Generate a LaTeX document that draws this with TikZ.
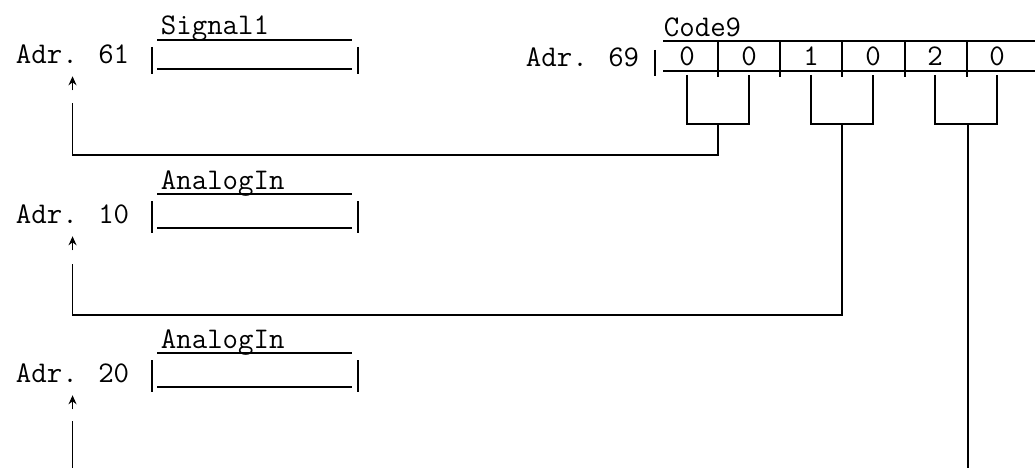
\documentclass[tikz,border=0pt]{standalone}
\usepackage{fontspec}
\usetikzlibrary{arrows.meta}

\begin{document}
\begin{tikzpicture}[x=1pt,y=-1pt,>={Stealth[length=9pt,width=8pt]},line width=1.8pt,
  every node/.style={font=\ttfamily\fontsize{30}{32}\selectfont,inner sep=0pt},
  lbl/.style={anchor=base west},
  digit/.style={anchor=base}]
  \useasboundingbox (0,0) rectangle (1035,468);
  % the three variables on the left
  \foreach \t/\b/\adr/\name in {40/69/61/Signal1,194/228/10/AnalogIn,353/387/20/AnalogIn} {
    \node[lbl] (a\adr) at (15,\b-5) {Adr. \adr};
    \node[lbl] (n\adr) at (160,\t-5) {\name};
    \draw (157,\t) -- (352,\t) (157,\b) -- (352,\b);
    \draw (152,\t+7) -- (152,\b+5) (358,\t+7) -- (358,\b+5);
  }
  % Code9 register
  \node[lbl] (a69) at (525,67) {Adr. 69};
  \node[lbl] (code) at (663,37) {Code9};
  \draw (663,41) -- (1035,41) (663,71) -- (1035,71);
  \draw (655,50) -- (655,76);
  \foreach \x in {718,780,842,905,967} {\draw (\x,42) -- (\x,77);}
  \foreach \d [count=\i] in {0,0,1,0,2,0} {\node[digit] (d\i) at (625+62*\i,66) {\d};}
  % brackets over pairs of digits
  \foreach \l/\r/\x/\m in {1/2/718/s1,3/4/842/s2,5/6/968/s3} {
    \draw (d\l |- 0,75) -- (d\l |- 0,124) -- (d\r |- 0,124) -- (d\r |- 0,75);
    \coordinate (\m) at (\x,124);
  }
  % pointers back to the addresses
  \draw (s1) |- ([yshift=-90pt]a61.south) -- ([yshift=-38pt]a61.south);
  \draw[->] ([yshift=-25pt]a61.south) -- ([yshift=-11pt]a61.south);
  \draw (s2) |- ([yshift=-91pt]a10.south) -- ([yshift=-40pt]a10.south);
  \draw[->] ([yshift=-26pt]a10.south) -- ([yshift=-12pt]a10.south);
  \draw (s3) -- (s3 |- 0,468);
  \draw ([yshift=-38pt]a20.south) -- ([yshift=-38pt]a20.south |- 0,468);
  \draw[->] ([yshift=-26pt]a20.south) -- ([yshift=-12pt]a20.south);
\end{tikzpicture}
\end{document}
